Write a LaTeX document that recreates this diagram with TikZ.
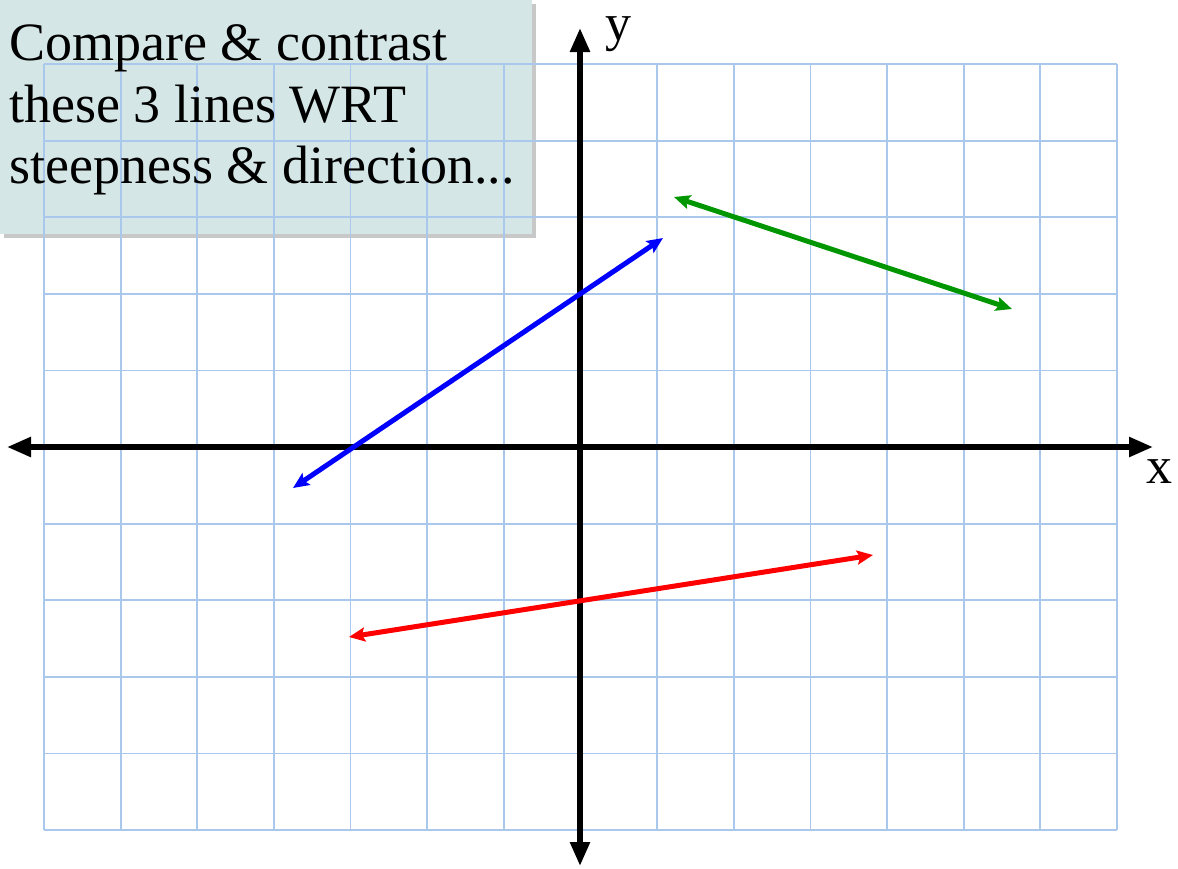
\documentclass[tikz,border=0pt]{standalone}
\usepackage{fontspec}
\setmainfont{Liberation Serif}
\newfontfamily\tnr{Liberation Serif}
\usetikzlibrary{arrows.meta}
\definecolor{gridblue}{RGB}{170,200,236}
\definecolor{boxfill}{RGB}{213,230,230}
\definecolor{shadowgray}{RGB}{200,200,200}
\definecolor{lgreen}{RGB}{0,150,0}
\begin{document}
\begin{tikzpicture}[x=1pt,y=-1pt,
  gridline/.style={draw=gridblue, line width=1.8pt},
  axisline/.style={line width=5.5pt, {Triangle[length=24pt,width=19pt]}-{Triangle[length=24pt,width=19pt]}},
  colline/.style={line width=5pt, {Stealth[length=16pt,width=14pt,inset=3pt]}-{Stealth[length=16pt,width=14pt,inset=3pt]}},
  bigtext/.style={anchor=base west, inner sep=0pt, font=\tnr\fontsize{54}{61.5}\selectfont},
  axlabel/.style={inner sep=0pt, font=\tnr\fontsize{52}{60}\selectfont}]
\useasboundingbox (0,0) rectangle (1178,868);
% text box with shadow
\fill[shadowgray] (4,4) rectangle (536,238);
\fill[boxfill] (0,0) rectangle (532,234);
% grid
\foreach \i in {0,...,14} {
  \draw[gridline] ({44+\i*76.64},64) -- ({44+\i*76.64},830);
}
\foreach \j in {0,...,10} {
  \draw[gridline] (44,{64+\j*76.6}) -- (1117,{64+\j*76.6});
}
% text
\node[bigtext] (t1) at (9,60) {Compare \& contrast};
\node[bigtext] (t2) at (9,122) {these 3 lines WRT};
\node[bigtext] (t3) at (9,183) {steepness \& direction...};
% axes
\coordinate (xl) at (7,447);
\coordinate (xr) at (1153,447);
\coordinate (yt) at (580,28);
\coordinate (yb) at (580,866);
\draw[axisline] (xl) -- (xr);
\draw[axisline] (yb) -- (yt);
\node[axlabel, anchor=base] (ylab) at (618,40) {y};
\node[axlabel, anchor=base] (xlab) at (1159,483) {x};
% lines
\coordinate (b1) at (293,488);
\coordinate (b2) at (663,238);
\coordinate (g1) at (674,197);
\coordinate (g2) at (1012,309);
\coordinate (r1) at (349,637);
\coordinate (r2) at (873,555);
\draw[colline, blue] (b1) -- (b2);
\draw[colline, lgreen] (g1) -- (g2);
\draw[colline, red] (r1) -- (r2);
\end{tikzpicture}
\end{document}
